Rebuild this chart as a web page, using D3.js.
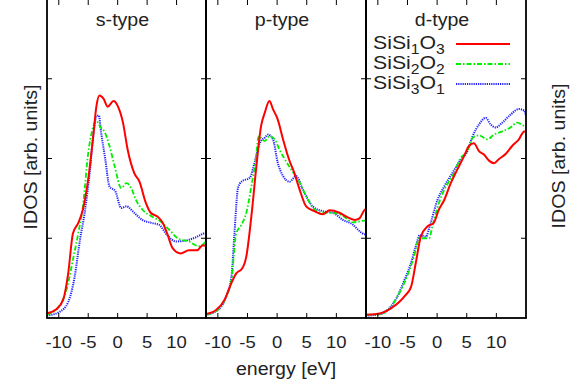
<!DOCTYPE html>
<html>
<head>
<meta charset="utf-8">
<script src="https://cdn.jsdelivr.net/npm/d3@7"></script>
<style>
  body { margin: 0; background: #fff; }
  text { font-family: "Liberation Sans", Arial, sans-serif; fill: #222; }
</style>
</head>
<body>
<div id="chart"></div>
<script>
// panel titles, legend entries, ticks
const panelTitles = ["s-type", "p-type", "d-type"];
const legendNames = [["SiSi", "1", "O", "3"], ["SiSi", "2", "O", "2"], ["SiSi", "3", "O", "1"]];
const xTicks = [-10, -5, 0, 5, 10];
const yTicks = [1, 2, 3];

// [energy eV, IDOS]
const s_Si1O3 = [[-12,0.06],[-10.4,0.11],[-9.25,0.23],[-8.4,0.56],[-7.6,1.06],[-6.7,1.19],[-5.9,1.36],[-5.0,1.74],[-4.2,2.24],[-3.6,2.66],[-3.1,2.79],[-2.4,2.75],[-1.7,2.65],[-0.7,2.72],[0,2.66],[0.9,2.45],[1.7,2.11],[2.8,1.82],[3.7,1.71],[4.8,1.44],[5.6,1.32],[6.8,1.27],[7.6,1.2],[8.4,1.06],[9.3,0.88],[10.7,0.81],[12.1,0.85],[13.5,0.85],[14.4,0.91],[15,0.91]];
const s_Si2O2 = [[-12,0.04],[-9.8,0.16],[-8.7,0.35],[-7.6,0.73],[-6.7,1.06],[-5.9,1.4],[-5.0,2.07],[-4.3,2.36],[-3.6,2.47],[-2.9,2.39],[-2.2,2.33],[-1.4,2.16],[-0.5,1.9],[0.6,1.63],[1.5,1.69],[2.3,1.63],[3.1,1.48],[4.2,1.36],[5.9,1.27],[7.3,1.21],[8.7,1.11],[10.4,0.99],[12.1,0.96],[13.8,0.9],[15,0.96]];
const s_Si3O1 = [[-12,0.03],[-9.8,0.08],[-8.4,0.2],[-7.3,0.52],[-6.4,0.98],[-5.6,1.32],[-4.75,1.82],[-4.1,2.32],[-3.6,2.53],[-3.2,2.54],[-2.8,2.32],[-2.1,1.99],[-1.4,1.65],[-0.4,1.59],[0.6,1.38],[1.5,1.4],[2.8,1.32],[4.2,1.23],[5.9,1.19],[7.0,1.17],[8.4,1.04],[9.9,0.96],[11.5,0.97],[13.2,1.01],[14.6,1.06],[15,1.07]];

const p_Si1O3 = [[-12,0.05],[-10.3,0.1],[-8.85,0.23],[-7.7,0.44],[-6.9,0.56],[-5.9,0.62],[-5.2,0.77],[-4.35,1.27],[-3.5,1.9],[-2.7,2.41],[-2.1,2.57],[-1.3,2.72],[-0.7,2.62],[0.1,2.49],[1.0,2.24],[2.0,1.99],[2.9,1.82],[3.8,1.61],[4.9,1.4],[6.3,1.34],[7.7,1.3],[8.85,1.35],[10.5,1.32],[11.7,1.27],[13.1,1.23],[13.9,1.25],[14.7,1.35],[15,1.37]];
const p_Si2O2 = [[-12,0.04],[-9.7,0.12],[-8.6,0.27],[-7.7,0.48],[-6.9,1.06],[-6.0,1.17],[-5.2,1.32],[-4.35,1.65],[-3.6,1.99],[-3.1,2.28],[-2.1,2.22],[-1.3,2.28],[-0.4,2.24],[0.4,2.11],[1.3,1.99],[2.4,1.86],[3.5,1.74],[4.9,1.53],[6.3,1.36],[7.7,1.32],[9.4,1.32],[11.1,1.28],[12.8,1.2],[14.8,1.22],[15,1.22]];
const p_Si3O1 = [[-12,0.04],[-9.7,0.12],[-8.6,0.27],[-7.7,0.52],[-7.2,1.06],[-6.6,1.63],[-6.0,1.71],[-4.6,1.76],[-3.8,1.95],[-2.9,2.2],[-2.1,2.26],[-1.5,2.3],[-0.7,2.24],[0.1,1.95],[1.0,1.78],[2.1,1.71],[3.2,1.78],[4.35,1.61],[6.0,1.4],[7.7,1.34],[9.4,1.32],[11.1,1.23],[12.8,1.17],[13.9,1.09],[14.8,1.05],[15,1.05]];

const d_Si1O3 = [[-12,0.04],[-9.5,0.06],[-7.8,0.12],[-6.4,0.2],[-5.3,0.29],[-4.4,0.39],[-3.6,0.69],[-2.75,1.02],[-1.6,1.15],[-0.6,1.19],[0.3,1.36],[1.2,1.48],[2.3,1.69],[3.4,1.86],[4.55,2.03],[5.4,2.16],[6.2,2.19],[7.1,2.09],[7.9,2.05],[8.8,1.97],[9.6,1.94],[10.4,1.99],[11.6,2.06],[12.7,2.16],[13.8,2.24],[14.7,2.34],[15,2.34]];
const d_Si2O2 = [[-12,0.04],[-9.5,0.05],[-7.8,0.14],[-6.4,0.31],[-5.3,0.48],[-3.9,0.77],[-3.0,1.0],[-2.2,1.0],[-1.35,1.0],[-0.8,1.15],[0.3,1.44],[1.5,1.65],[2.6,1.78],[4.0,2.01],[5.1,2.09],[6.0,2.26],[7.1,2.29],[8.5,2.24],[9.6,2.3],[11.0,2.34],[12.4,2.39],[13.5,2.45],[14.4,2.42],[15,2.39]];
const d_Si3O1 = [[-12,0.03],[-9.5,0.05],[-8.1,0.12],[-6.7,0.27],[-5.6,0.46],[-4.4,0.69],[-3.6,0.9],[-2.9,1.04],[-1.9,1.02],[-1.1,1.19],[0.06,1.48],[1.2,1.65],[2.6,1.82],[4.0,1.99],[5.1,2.09],[6.0,2.28],[7.1,2.43],[8.2,2.51],[9.0,2.43],[9.9,2.39],[11.0,2.45],[12.4,2.55],[13.8,2.62],[14.7,2.6],[15,2.53]];

const panelData = [
  [s_Si1O3, s_Si2O2, s_Si3O1],
  [p_Si1O3, p_Si2O2, p_Si3O1],
  [d_Si1O3, d_Si2O2, d_Si3O1]
];

const W = 572, H = 390;
const panelEdges = [47, 206, 366, 526];
const plotTop = -1, plotBottom = 318;
const styles = [
  { color: "#ff0000", dash: null, width: 2 },
  { color: "#00ee00", dash: "5,2,1.5,2", width: 1.8 },
  { color: "#2020ff", dash: "1.2,1", width: 2 }
];
const stretch = 1.12;

const svg = d3.select("#chart").append("svg")
  .attr("width", W).attr("height", H);

const y = d3.scaleLinear().domain([0, 4]).range([plotBottom, plotTop]);

function label(g, x, yy, str, size, anchor, rot) {
  const t = g.append("g")
    .attr("transform", `translate(${x},${yy})` + (rot ? ` rotate(${rot})` : "") + ` scale(${stretch},1)`);
  return t.append("text").attr("text-anchor", anchor).style("font-size", size + "px").text(str);
}

panelData.forEach((series, i) => {
  const x0 = panelEdges[i], x1 = panelEdges[i + 1];
  const x = d3.scaleLinear().domain([-12, 15]).range([x0, x1]);
  const g = svg.append("g");

  svg.append("clipPath").attr("id", "clip" + i)
    .append("rect").attr("x", x0).attr("y", plotTop).attr("width", x1 - x0).attr("height", plotBottom - plotTop);

  const line = d3.line().x(d => x(d[0])).y(d => y(d[1])).curve(d3.curveMonotoneX);

  // blue first, red on top
  [2, 1, 0].forEach(k => {
    g.append("path")
      .datum(series[k])
      .attr("clip-path", `url(#clip${i})`)
      .attr("d", line)
      .attr("fill", "none")
      .attr("stroke", styles[k].color)
      .attr("stroke-width", styles[k].width)
      .attr("stroke-dasharray", styles[k].dash);
  });

  // inward ticks
  xTicks.forEach(t => {
    g.append("line").attr("x1", x(t)).attr("x2", x(t)).attr("y1", plotBottom).attr("y2", plotBottom - 5)
      .attr("stroke", "#000").attr("stroke-width", 1);
    g.append("line").attr("x1", x(t)).attr("x2", x(t)).attr("y1", plotTop).attr("y2", plotTop + 6)
      .attr("stroke", "#000").attr("stroke-width", 1);
    label(g, x(t), 348, String(t), 16.5, "middle");
  });
  yTicks.forEach(t => {
    g.append("line").attr("x1", x0).attr("x2", x0 + 5).attr("y1", y(t)).attr("y2", y(t))
      .attr("stroke", "#000").attr("stroke-width", 1);
    g.append("line").attr("x1", x1).attr("x2", x1 - 5).attr("y1", y(t)).attr("y2", y(t))
      .attr("stroke", "#000").attr("stroke-width", 1);
  });

  g.append("rect").attr("x", x0).attr("y", plotTop).attr("width", x1 - x0).attr("height", plotBottom - plotTop)
    .attr("fill", "none").attr("stroke", "#000").attr("stroke-width", 1.8);

  label(g, (x0 + x1) / 2 - 4, 26, panelTitles[i], 17.5, "middle");
});

// legend in the d-type panel
legendNames.forEach((parts, k) => {
  const by = 49 + k * 20;
  const g = svg.append("g").attr("transform", `translate(373,${by}) scale(${stretch},1)`);
  const t = g.append("text").style("font-size", "19px");
  t.append("tspan").text(parts[0]);
  t.append("tspan").attr("dy", 5).style("font-size", "14px").text(parts[1]);
  t.append("tspan").attr("dy", -5).text(parts[2]);
  t.append("tspan").attr("dy", 5).style("font-size", "14px").text(parts[3]);
  svg.append("line").attr("x1", 456).attr("x2", 510).attr("y1", by - 5).attr("y2", by - 5)
    .attr("stroke", styles[k].color).attr("stroke-width", styles[k].width)
    .attr("stroke-dasharray", styles[k].dash);
});

label(svg, 286, 375, "energy [eV]", 17.5, "middle");
label(svg, 37, 157, "IDOS [arb. units]", 17.5, "middle", -90);
label(svg, 565, 156, "IDOS [arb. units]", 17.5, "middle", -90);
</script>
</body>
</html>
